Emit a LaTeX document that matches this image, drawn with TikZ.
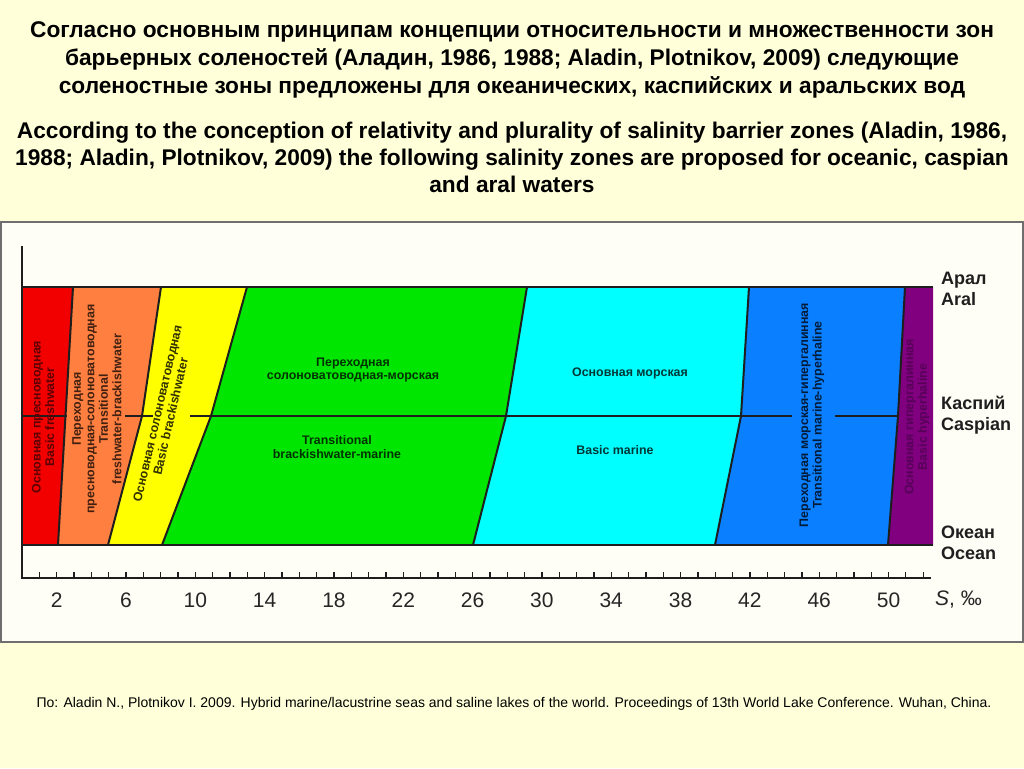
\documentclass[tikz,border=0pt]{standalone}
\usepackage{fontspec}
\setmainfont{Liberation Sans}
\definecolor{bgout}{HTML}{FFFFDA}
\definecolor{bgin}{HTML}{FFFEF6}
\definecolor{frame}{HTML}{6E6E6E}
\definecolor{lineclr}{HTML}{1E1E1E}
\definecolor{zRed}{HTML}{F20000}
\definecolor{zOrange}{HTML}{FF7F40}
\definecolor{zYellow}{HTML}{FFFF00}
\definecolor{zGreen}{HTML}{00E600}
\definecolor{zCyan}{HTML}{00FFFF}
\definecolor{zBlue}{HTML}{0A7FFF}
\definecolor{zPurple}{HTML}{800080}
\tikzset{
  zline/.style={draw=lineclr, line width=2pt},
  axisline/.style={draw=lineclr, line width=2pt},
  tickline/.style={draw=lineclr, line width=1.3pt},
  ztext/.style={align=center, inner sep=0pt, font=\bfseries\fontsize{12.4}{13.5}\selectfont},
  ticklabel/.style={inner sep=0pt, font=\fontsize{21}{24}\selectfont, text=black!85},
  sidelabel/.style={anchor=west, align=left, inner sep=0pt, font=\bfseries\fontsize{18}{20.5}\selectfont, text=black!88},
  titletext/.style={align=center, inner sep=0pt, font=\bfseries\fontsize{22.7}{28}\selectfont},
}
\begin{document}
\begin{tikzpicture}[x=1pt,y=-1pt]
\useasboundingbox (0,0) rectangle (1024,768);
\fill[bgout] (0,0) rectangle (1024,768);
% panel
\draw[frame, line width=1.5pt, fill=bgin] (1,222) rectangle (1023,642);

% titles
\node[titletext] (titleru) at (512,60) {Согласно основным принципам концепции относительности и множественности зон\\барьерных соленостей (Аладин, 1986, 1988; Aladin, Plotnikov, 2009) следующие\\соленостные зоны предложены для океанических, каспийских и аральских вод};
\node[titletext, font=\bfseries\fontsize{22.7}{27}\selectfont] (titleen) at (512,157) {According to the conception of relativity and plurality of salinity barrier zones (Aladin, 1986,\\1988; Aladin, Plotnikov, 2009) the following salinity zones are proposed for oceanic, caspian\\and aral waters};

% boundary coordinates (top = Aral, middle = Caspian, bottom = Ocean)
\coordinate (b0t) at (22,287);  \coordinate (b0m) at (22,416);  \coordinate (b0b) at (22,545);
\coordinate (b1t) at (73,287);  \coordinate (b1m) at (65.5,416);\coordinate (b1b) at (58,545);
\coordinate (b2t) at (161,287); \coordinate (b2m) at (142,416); \coordinate (b2b) at (108,545);
\coordinate (b3t) at (247,287); \coordinate (b3m) at (211,416); \coordinate (b3b) at (162,545);
\coordinate (b4t) at (527,287); \coordinate (b4m) at (506,416); \coordinate (b4b) at (473,545);
\coordinate (b5t) at (749,287); \coordinate (b5m) at (741,416); \coordinate (b5b) at (715,545);
\coordinate (b6t) at (905,287); \coordinate (b6m) at (898,416); \coordinate (b6b) at (888,545);
\coordinate (b7t) at (933,287); \coordinate (b7m) at (933,416); \coordinate (b7b) at (933,545);

% zone fills
\fill[zRed]    (b0t) -- (b1t) -- (b1m) -- (b1b) -- (b0b) -- (b0m) -- cycle;
\fill[zOrange] (b1t) -- (b2t) -- (b2m) -- (b2b) -- (b1b) -- (b1m) -- cycle;
\fill[zYellow] (b2t) -- (b3t) -- (b3m) -- (b3b) -- (b2b) -- (b2m) -- cycle;
\fill[zGreen]  (b3t) -- (b4t) -- (b4m) -- (b4b) -- (b3b) -- (b3m) -- cycle;
\fill[zCyan]   (b4t) -- (b5t) -- (b5m) -- (b5b) -- (b4b) -- (b4m) -- cycle;
\fill[zBlue]   (b5t) -- (b6t) -- (b6m) -- (b6b) -- (b5b) -- (b5m) -- cycle;
\fill[zPurple] (b6t) -- (b7t) -- (b7m) -- (b7b) -- (b6b) -- (b6m) -- cycle;

% zone boundaries
\draw[zline] (b1t) -- (b1m) -- (b1b);
\draw[zline] (b2t) -- (b2m) -- (b2b);
\draw[zline] (b3t) -- (b3m) -- (b3b);
\draw[zline] (b4t) -- (b4m) -- (b4b);
\draw[zline] (b5t) -- (b5m) -- (b5b);
\draw[zline] (b6t) -- (b6m) -- (b6b);
\draw[zline] (b0t) -- (b7t);
\draw[zline] (b0b) -- (b7b);

% Caspian middle line (interrupted by labels)
\coordinate (m1) at (67,416);  \coordinate (m2) at (125,416); \coordinate (m3) at (153,416);
\coordinate (m4) at (190,416); \coordinate (m5) at (792,416); \coordinate (m6) at (835,416);
\draw[zline] (b0m) -- (m1);
\draw[zline] (m2) -- (m3);
\draw[zline] (m4) -- (m5);
\draw[zline] (m6) -- (b6m);

% axes
\coordinate (ax0) at (22,246);
\coordinate (ax1) at (22,578);
\coordinate (ax2) at (931,578);
\draw[axisline] (ax0) -- (ax1) -- (ax2);
\foreach \s in {1,...,52} {
  \draw[tickline] ({22+17.33*\s},578) -- ({22+17.33*\s},572);
}
\foreach \s in {2,6,...,50} {
  \node[ticklabel] (lab\s) at ({22+17.33*\s},600) {\s};
}
\node[ticklabel, anchor=west] (unit) at (935,600) {\textit{S}, ‰};

% zone texts
\node[ztext, rotate=90, text=zRed!38!black] (tRed) at (43,417) {Основная пресноводная\\Basic freshwater};
\node[ztext, rotate=90, text=zOrange!25!black] (tOrange) at (97,409) {Переходная\\пресноводная-солоноватоводная\\Transitional\\freshwater-brackishwater};
\node[ztext, rotate=77, text=zYellow!20!black] (tYellow) at (164,415) {Основная солоноватоводная\\Basic brackishwater};
\node[ztext, text=zGreen!22!black] (tGreenRu) at (353,370) {Переходная\\солоноватоводная-морская};
\node[ztext, text=zGreen!22!black] (tGreenEn) at (337,447) {Transitional\\brackishwater-marine};
\node[ztext, text=zCyan!22!black] (tCyanRu) at (630,373) {Основная морская};
\node[ztext, text=zCyan!22!black] (tCyanEn) at (615,450) {Basic marine};
\node[ztext, rotate=90, text=zBlue!22!black] (tBlue) at (812,415) {Переходная морская-гипергалинная\\Transitional marine-hyperhaline};
\node[ztext, rotate=90, text=zPurple!68!black] (tPurple) at (917,417) {Основная гипергалинная\\Basic hyperhaline};

% side labels
\node[sidelabel] (lAral) at (941,289) {Арал\\Aral};
\node[sidelabel] (lCasp) at (941,415) {Каспий\\Caspian};
\node[sidelabel] (lOcean) at (941,543) {Океан\\Ocean};

% footer
\node[inner sep=0pt, font=\fontsize{14}{16}\selectfont] (footer) at (514,704) {По: Aladin N., Plotnikov I. 2009. Hybrid marine/lacustrine seas and saline lakes of the world. Proceedings of 13th World Lake Conference. Wuhan, China.};
\end{tikzpicture}
\end{document}
